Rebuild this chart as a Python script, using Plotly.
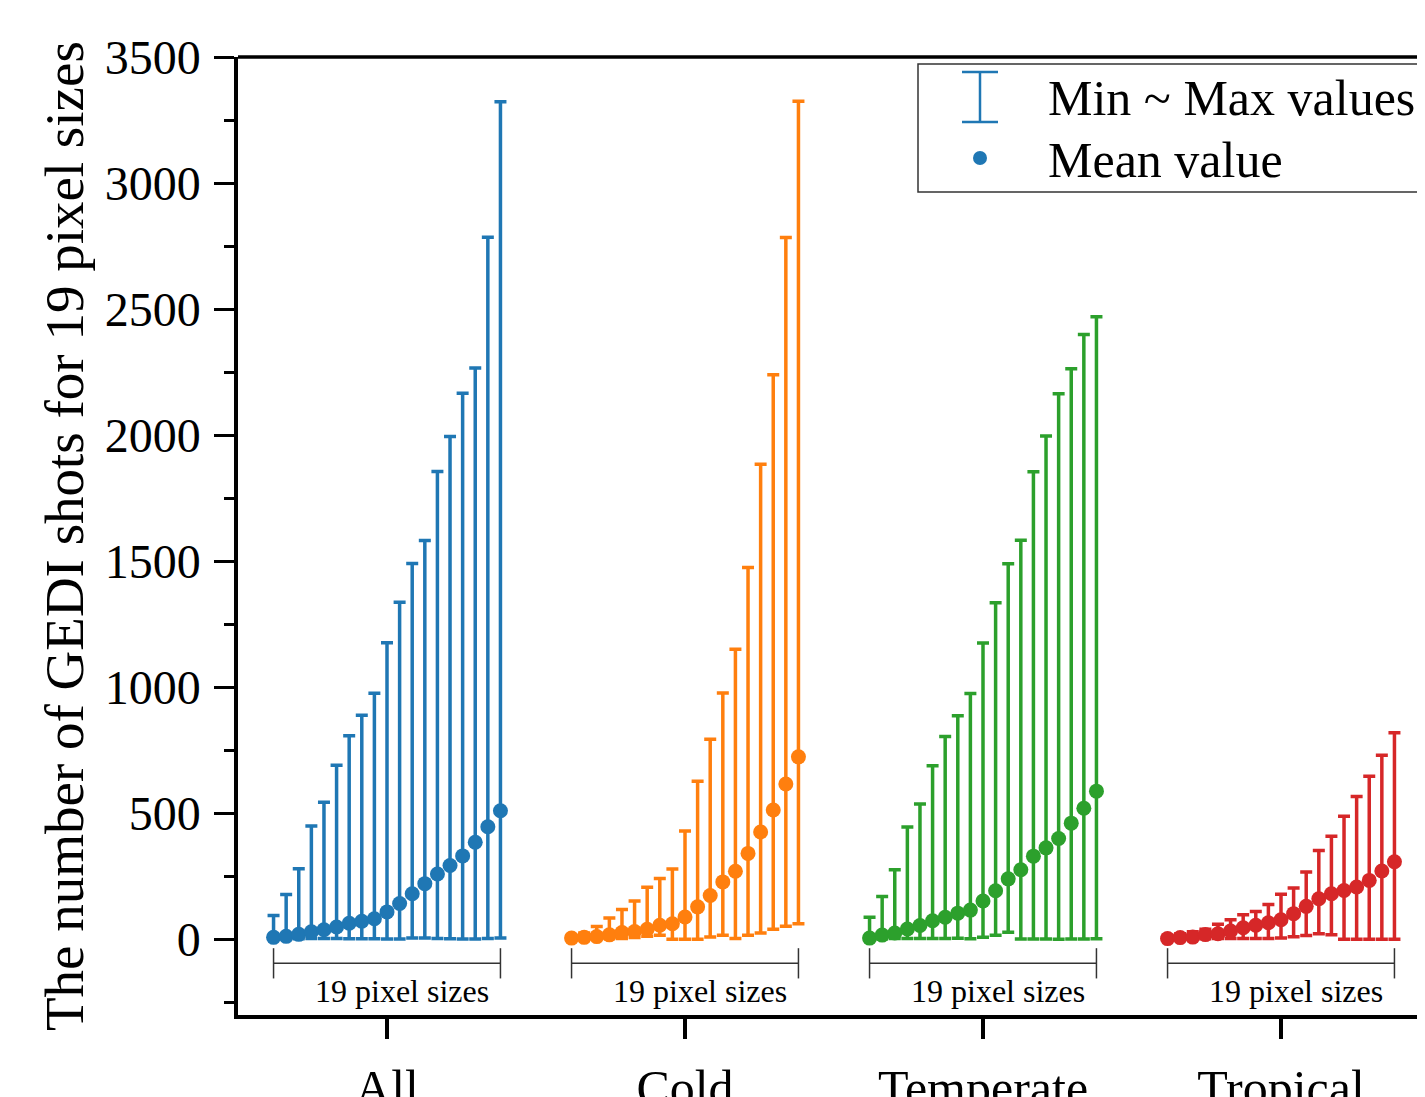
import plotly.graph_objects as go

categories = ["All", "Cold", "Temperate", "Tropical"]
colors = ["#1f77b4", "#ff7f0e", "#2ca02c", "#d62728"]

all_mean = [8, 12, 20, 30, 38, 49, 64, 72, 82, 109, 142, 181, 221, 259, 293, 331, 385, 447, 510]
all_max = [95, 178, 280, 450, 544, 691, 808, 889, 976, 1177, 1337, 1491, 1582, 1856, 1995, 2166, 2266, 2785, 3322]
all_min = [2, 2, 2, 3, 3, 3, 2, 2, 2, 1, 1, 5, 5, 3, 2, 1, 1, 3, 5]

cold_mean = [5, 8, 11, 18, 27, 31, 40, 56, 62, 89, 129, 174, 228, 270, 341, 426, 513, 616, 724]
cold_max = [15, 25, 51, 85, 118, 152, 207, 241, 279, 430, 627, 794, 977, 1151, 1475, 1885, 2240, 2784, 3324]
cold_min = [2, 3, 3, 3, 3, 7, 12, 16, 0, 0, 0, 9, 16, 3, 16, 25, 40, 52, 62]

temp_mean = [5, 17, 25, 41, 55, 74, 88, 104, 116, 152, 193, 240, 276, 330, 363, 400, 461, 520, 588]
temp_max = [88, 170, 276, 446, 537, 689, 805, 887, 975, 1176, 1335, 1490, 1583, 1855, 1997, 2164, 2263, 2399, 2470]
temp_min = [2, 2, 3, 3, 3, 3, 3, 4, 2, 8, 16, 28, 1, 1, 1, 0, 1, 1, 2]

trop_mean = [3, 7, 9, 19, 22, 33, 46, 56, 66, 78, 102, 131, 161, 181, 194, 208, 234, 271, 308]
trop_max = [15, 22, 30, 40, 60, 78, 98, 111, 138, 179, 204, 267, 353, 409, 488, 567, 647, 730, 820]
trop_min = [1, 2, 2, 2, 3, 3, 3, 3, 3, 5, 10, 15, 22, 18, 0, 0, 0, 0, 0]

y_ticks = [0, 500, 1000, 1500, 2000, 2500, 3000, 3500]

means = [all_mean, cold_mean, temp_mean, trop_mean]
maxs = [all_max, cold_max, temp_max, trop_max]
mins = [all_min, cold_min, temp_min, trop_min]

N = 19
step = 0.0423
FONT = "Liberation Serif, Times New Roman, serif"

# page offset of the plot div (default body margin)
OFF = 8
FIG_W = 1425
FIG_H = 1097 - OFF
L = 238 - OFF
T = 57 - OFF
H_PLOT = 958.0
W_PLOT = float(FIG_W - L)

fig = go.Figure()
for g in range(4):
    xs = [g + (i - (N - 1) / 2) * step for i in range(N)]
    m = means[g]
    up = [mx - mm for mx, mm in zip(maxs[g], m)]
    dn = [mm - mn for mm, mn in zip(m, mins[g])]
    fig.add_trace(go.Scatter(
        x=xs, y=m, mode="markers",
        marker=dict(color=colors[g], size=15, line=dict(width=0)),
        error_y=dict(type="data", symmetric=False, array=up, arrayminus=dn,
                     color=colors[g], thickness=3.5, width=6),
        showlegend=False, hoverinfo="skip"))

shapes = []
annotations = []
half = (N - 1) / 2 * step
for g in range(4):
    x0, x1 = g - half, g + half
    shapes.append(dict(type="line", xref="x", yref="y", x0=x0, x1=x1, y0=-95, y1=-95,
                       line=dict(color="#333333", width=1.5)))
    for xe in (x0, x1):
        shapes.append(dict(type="line", xref="x", yref="y", x0=xe, x1=xe, y0=-35, y1=-155,
                           line=dict(color="#333333", width=1.5)))
    annotations.append(dict(x=g + 0.05, y=-205, xref="x", yref="y", text="19 pixel sizes",
                            showarrow=False, font=dict(family=FONT, size=32, color="black"),
                            xanchor="center", yanchor="middle"))


def px(xp):
    return (xp - OFF - L) / W_PLOT


def py(yp):
    return (T + H_PLOT - (yp - OFF)) / H_PLOT


# top frame line
shapes.append(dict(type="line", xref="paper", yref="paper", x0=0, x1=1, y0=1, y1=1,
                   line=dict(color="black", width=3.5)))

# legend box
shapes.append(dict(type="rect", xref="paper", yref="paper", x0=px(918), x1=px(1420),
                   y0=py(192), y1=py(64), line=dict(color="#333333", width=1.5),
                   fillcolor="white"))
shapes.append(dict(type="line", xref="paper", yref="paper", x0=px(980), x1=px(980),
                   y0=py(122), y1=py(72), line=dict(color=colors[0], width=2.5)))
for yy in (72, 122):
    shapes.append(dict(type="line", xref="paper", yref="paper", x0=px(962), x1=px(998),
                       y0=py(yy), y1=py(yy), line=dict(color=colors[0], width=2.5)))
shapes.append(dict(type="circle", xref="paper", yref="paper", x0=px(973), x1=px(987),
                   y0=py(165), y1=py(151), fillcolor=colors[0], line=dict(width=0)))
annotations.append(dict(x=px(1046), y=py(98), xref="paper", yref="paper",
                        text="Min ~ Max values", showarrow=False, xanchor="left",
                        yanchor="middle", font=dict(family=FONT, size=50, color="black")))
annotations.append(dict(x=px(1046), y=py(160), xref="paper", yref="paper",
                        text="Mean value", showarrow=False, xanchor="left",
                        yanchor="middle", font=dict(family=FONT, size=50, color="black")))

# y-axis title
annotations.append(dict(x=px(64), y=py(536), xref="paper", yref="paper",
                        text="The number of GEDI shots for 19 pixel sizes", textangle=-90,
                        showarrow=False, xanchor="center", yanchor="middle",
                        font=dict(family=FONT, size=55, color="black")))

fig.update_layout(
    width=FIG_W, height=FIG_H,
    margin=dict(l=L, r=0, t=T, b=FIG_H - T - int(H_PLOT), autoexpand=False),
    paper_bgcolor="white", plot_bgcolor="white",
    shapes=shapes, annotations=annotations,
    font=dict(family=FONT, color="black"),
)
fig.update_xaxes(
    range=[-0.5, -0.5 + W_PLOT / 298.0],
    tickmode="array", tickvals=[0, 1, 2, 3], ticktext=categories,
    showline=True, linecolor="black", linewidth=3.5, mirror=False,
    ticks="outside", ticklen=20, tickwidth=3.5, tickcolor="black",
    tickfont=dict(family=FONT, size=50, color="black"),
    ticklabelstandoff=6, automargin=False,
    showgrid=False, zeroline=False,
)
fig.update_yaxes(
    range=[-300, 3500],
    tickmode="array", tickvals=y_ticks, ticktext=[str(v) for v in y_ticks],
    showline=True, linecolor="black", linewidth=3.5, mirror=False,
    ticks="outside", ticklen=20, tickwidth=3, tickcolor="black",
    tickfont=dict(family=FONT, size=48, color="black"),
    ticklabelstandoff=4, automargin=False,
    minor=dict(ticks="outside", ticklen=10, tickwidth=3, tickcolor="black",
               tickmode="linear", tick0=-250, dtick=250, showgrid=False),
    showgrid=False, zeroline=False,
)

fig.write_html("out.html")
